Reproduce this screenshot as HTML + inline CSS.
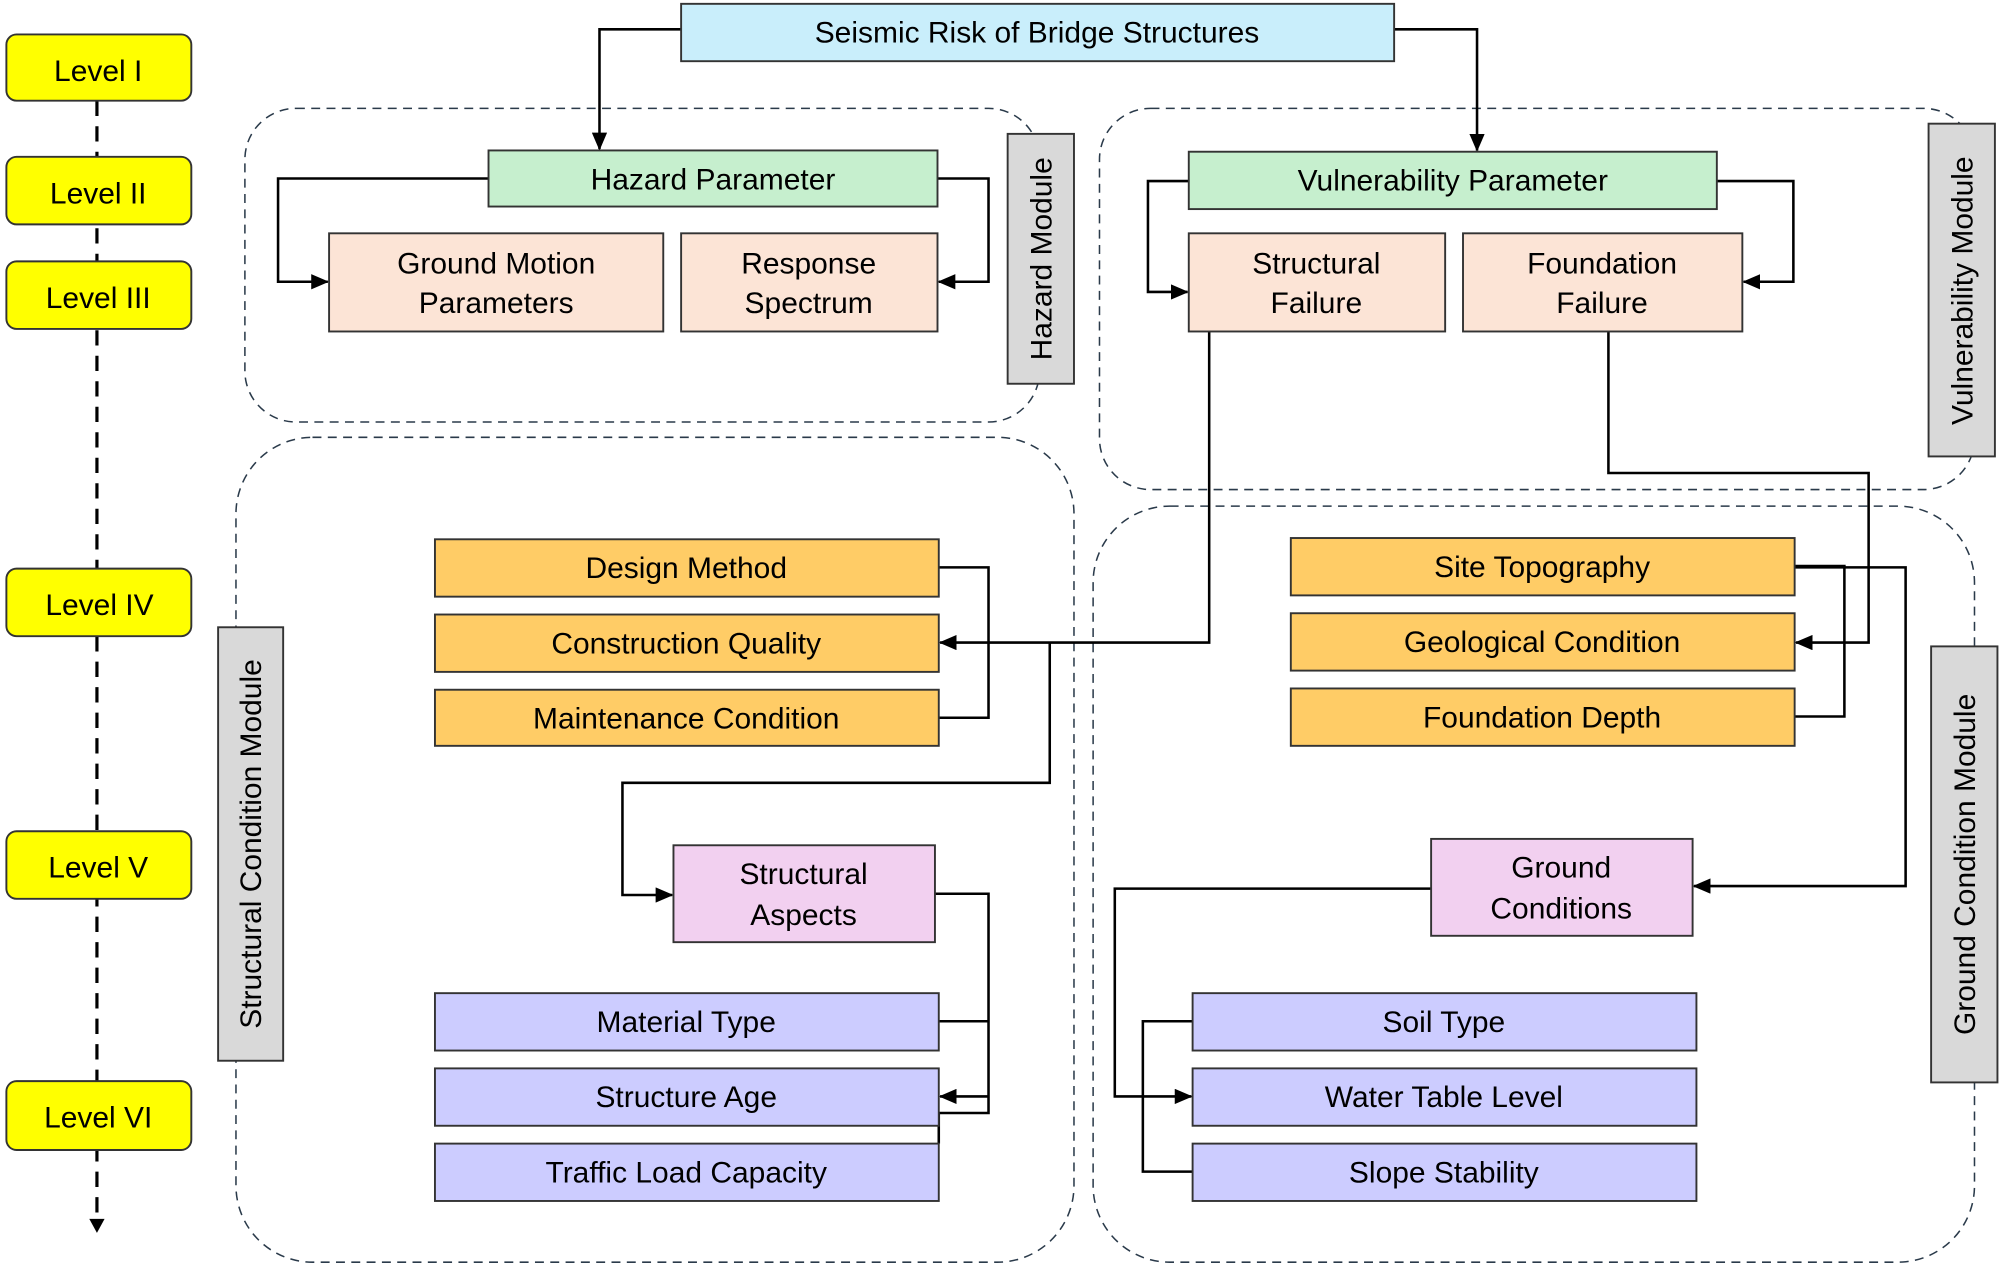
<!DOCTYPE html>
<html><head><meta charset="utf-8"><style>
html,body{margin:0;padding:0;background:#fff;}
svg{display:block;}
text{font-family:"Liberation Sans",sans-serif;font-size:23.5px;fill:#000;text-anchor:middle;dominant-baseline:central;}
.b{stroke:#333;stroke-width:1.5;}
.l{fill:none;stroke:#000;stroke-width:2;}
.d{fill:none;stroke:#2a3a4a;stroke-width:1.2;stroke-dasharray:7,5;}
</style></head><body>
<svg width="2000" height="1266" viewBox="0 0 1568 993" preserveAspectRatio="none" xmlns="http://www.w3.org/2000/svg">
<defs><marker id="a" markerWidth="14" markerHeight="12" refX="13" refY="6" orient="auto" markerUnits="userSpaceOnUse"><path d="M0,0 L14,6 L0,12 z" fill="#000"/></marker></defs>
<rect class="d" x="192" y="85" width="623" height="246" rx="40"/>
<rect class="d" x="862" y="85" width="686" height="299" rx="40"/>
<rect class="d" x="185" y="343" width="657" height="647" rx="60"/>
<rect class="d" x="857" y="397" width="691" height="593" rx="60"/>
<line x1="76" y1="79" x2="76" y2="958" stroke="#000" stroke-width="2.5" stroke-dasharray="12,8"/>
<path d="M70,956 L82,956 L76,967 z" fill="#000"/>
<g class="b" fill="#ffff00" stroke="#000">
<rect x="5" y="27" width="145" height="52" rx="8"/>
<rect x="5" y="123" width="145" height="53" rx="8"/>
<rect x="5" y="205" width="145" height="53" rx="8"/>
<rect x="5" y="446" width="145" height="53" rx="8"/>
<rect x="5" y="652" width="145" height="53" rx="8"/>
<rect x="5" y="848" width="145" height="54" rx="8"/>
</g>
<text x="77" y="56">Level I</text><text x="77" y="152">Level II</text><text x="77" y="234">Level III</text>
<text x="78" y="475">Level IV</text><text x="77" y="681">Level V</text><text x="77" y="877">Level VI</text>
<path class="l" d="M534,23 H470 V117" marker-end="url(#a)"/>
<path class="l" d="M1093,23 H1158 V118" marker-end="url(#a)"/>
<path class="l" d="M383,140 H218 V221 H257" marker-end="url(#a)"/>
<path class="l" d="M735,140 H775 V221 H736" marker-end="url(#a)"/>
<path class="l" d="M932,142 H900 V229 H931" marker-end="url(#a)"/>
<path class="l" d="M1346,142 H1406 V221 H1367" marker-end="url(#a)"/>
<path class="l" d="M736,445 H775 V563 H736"/>
<path class="l" d="M948,260 V504 H737" marker-end="url(#a)"/>
<path class="l" d="M823,504 V614 H488 V702 H527" marker-end="url(#a)"/>
<path class="l" d="M733,701 H775 V873 H736 V897"/>
<path class="l" d="M736,801 H775"/>
<path class="l" d="M775,860 H737" marker-end="url(#a)"/>
<path class="l" d="M1407,444 H1446 V562 H1407"/>
<path class="l" d="M1261,260 V371 H1465 V504 H1408" marker-end="url(#a)"/>
<path class="l" d="M1407,445 H1494 V695 H1328" marker-end="url(#a)"/>
<path class="l" d="M1122,697 H874 V860 H934" marker-end="url(#a)"/>
<path class="l" d="M935,801 H896 V919 H935"/>
<g class="b">
<rect x="534" y="3" width="559" height="45" fill="#c9eefb"/>
<rect x="383" y="118" width="352" height="44" fill="#c6efce"/>
<rect x="932" y="119" width="414" height="45" fill="#c6efce"/>
<rect x="258" y="183" width="262" height="77" fill="#fce4d6"/>
<rect x="534" y="183" width="201" height="77" fill="#fce4d6"/>
<rect x="932" y="183" width="201" height="77" fill="#fce4d6"/>
<rect x="1147" y="183" width="219" height="77" fill="#fce4d6"/>
<rect x="341" y="423" width="395" height="45" fill="#ffcc66"/>
<rect x="341" y="482" width="395" height="45" fill="#ffcc66"/>
<rect x="341" y="541" width="395" height="44" fill="#ffcc66"/>
<rect x="1012" y="422" width="395" height="45" fill="#ffcc66"/>
<rect x="1012" y="481" width="395" height="45" fill="#ffcc66"/>
<rect x="1012" y="540" width="395" height="45" fill="#ffcc66"/>
<rect x="528" y="663" width="205" height="76" fill="#f2d0f0"/>
<rect x="1122" y="658" width="205" height="76" fill="#f2d0f0"/>
<rect x="341" y="779" width="395" height="45" fill="#ccccff"/>
<rect x="341" y="838" width="395" height="45" fill="#ccccff"/>
<rect x="341" y="897" width="395" height="45" fill="#ccccff"/>
<rect x="935" y="779" width="395" height="45" fill="#ccccff"/>
<rect x="935" y="838" width="395" height="45" fill="#ccccff"/>
<rect x="935" y="897" width="395" height="45" fill="#ccccff"/>
<rect x="790" y="105" width="52" height="196" fill="#d9d9d9"/>
<rect x="1512" y="97" width="52" height="261" fill="#d9d9d9"/>
<rect x="171" y="492" width="51" height="340" fill="#d9d9d9"/>
<rect x="1514" y="507" width="52" height="342" fill="#d9d9d9"/>
</g>
<text x="813" y="26">Seismic Risk of Bridge Structures</text>
<text x="559" y="141">Hazard Parameter</text>
<text x="1139" y="142">Vulnerability Parameter</text>
<text x="389" y="207">Ground Motion</text><text x="389" y="238">Parameters</text>
<text x="634" y="207">Response</text><text x="634" y="238">Spectrum</text>
<text x="1032" y="207">Structural</text><text x="1032" y="238">Failure</text>
<text x="1256" y="207">Foundation</text><text x="1256" y="238">Failure</text>
<text x="538" y="446">Design Method</text>
<text x="538" y="505">Construction Quality</text>
<text x="538" y="564">Maintenance Condition</text>
<text x="1209" y="445">Site Topography</text>
<text x="1209" y="504">Geological Condition</text>
<text x="1209" y="563">Foundation Depth</text>
<text x="630" y="686">Structural</text><text x="630" y="718">Aspects</text>
<text x="1224" y="681">Ground</text><text x="1224" y="713">Conditions</text>
<text x="538" y="802">Material Type</text>
<text x="538" y="861">Structure Age</text>
<text x="538" y="920">Traffic Load Capacity</text>
<text x="1132" y="802">Soil Type</text>
<text x="1132" y="861">Water Table Level</text>
<text x="1132" y="920">Slope Stability</text>
<text transform="translate(817,203) rotate(-90)">Hazard Module</text>
<text transform="translate(1539,228) rotate(-90)">Vulnerability Module</text>
<text transform="translate(197,662) rotate(-90)">Structural Condition Module</text>
<text transform="translate(1541,678) rotate(-90)">Ground Condition Module</text>
</svg>
</body></html>
